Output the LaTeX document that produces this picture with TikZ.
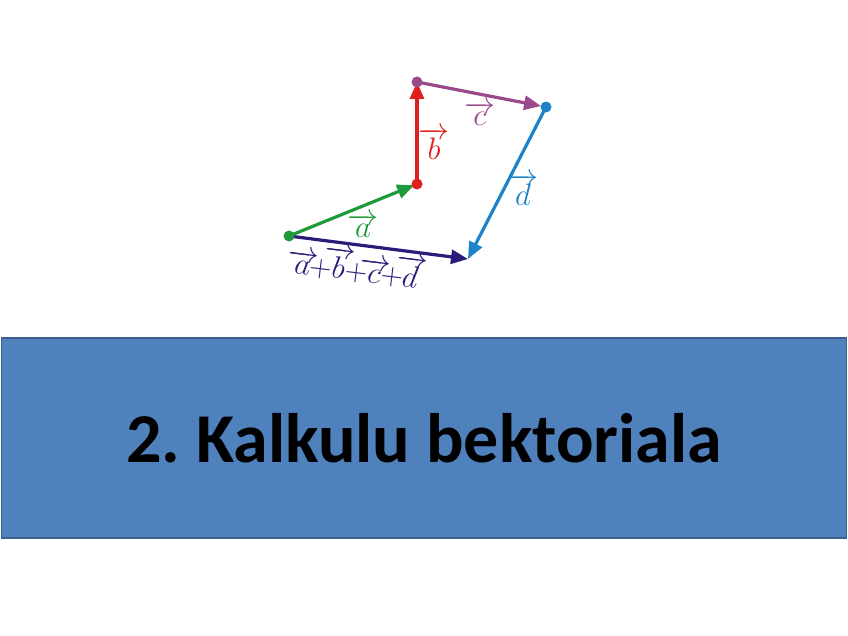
\documentclass[tikz,border=0pt]{standalone}
\usepackage{fix-cm}
\usepackage{fontspec}
\newfontfamily\titlefont{Carlito}
\usetikzlibrary{arrows.meta}
\definecolor{vecgreen}{HTML}{1E9A3A}
\definecolor{vecred}{HTML}{E0201E}
\definecolor{vecpurple}{HTML}{9A4A8A}
\definecolor{vecblue}{HTML}{1E82C8}
\definecolor{vecnavy}{HTML}{2A1C78}
\definecolor{boxfill}{HTML}{4F81BD}
\definecolor{boxline}{HTML}{3A5F8C}
\frenchspacing

\begin{document}
\begin{tikzpicture}[x=1pt, y=-1pt,
    vecarrow/.style={line width=3.2pt, -{Triangle[length=17pt, width=14pt]}},
    vecdot/.style={circle, fill=#1, inner sep=0pt, minimum size=11pt},
    veclabel/.style={font=\fontsize{31}{34}\selectfont, text=#1, inner sep=0pt},
    titlebox/.style={draw=boxline, fill=boxfill, line width=1.5pt,
        minimum width=845pt, minimum height=200pt, inner sep=0pt}]
    \useasboundingbox (0,0) rectangle (848,636);
    % points of the polygon
    \coordinate (O) at (289,236);
    \coordinate (A) at (417,184);
    \coordinate (B) at (417,82);
    \coordinate (C) at (546,107);
    \coordinate (D) at (468,259);
    % vectors
    \draw[vecarrow, vecnavy] (O) -- (D);
    \draw[vecarrow, vecgreen, shorten >=3pt] (O) -- (A);
    \draw[vecarrow, vecred] (A) -- (B);
    \draw[vecarrow, vecpurple, shorten >=5pt] (B) -- (C);
    \draw[vecarrow, vecblue] (C) -- (D);
    \node[vecdot=vecgreen] (dotO) at (O) {};
    \node[vecdot=vecred] (dotA) at (A) {};
    \node[vecdot=vecpurple] (dotB) at (B) {};
    \node[vecdot=vecblue] (dotC) at (C) {};
    % labels
    \node[veclabel=vecgreen] (la) at (363,226) {$\overrightarrow{a}$};
    \node[veclabel=vecred] (lb) at (434,144) {$\overrightarrow{b}$};
    \node[veclabel=vecpurple] (lc) at (480,114) {$\overrightarrow{c}$};
    \node[veclabel=vecblue] (ld) at (523,190) {$\overrightarrow{d}$};
    \node[veclabel=vecnavy, rotate=-7] (lsum) at (357,266)
        {$\overrightarrow{a}\mkern-5mu{+}\mkern-5mu\overrightarrow{b}\mkern-5mu{+}\mkern-5mu\overrightarrow{c}\mkern-5mu{+}\mkern-5mu\overrightarrow{d}$};
    % title
    \node[titlebox] (title) at (424,438)
        {\titlefont\bfseries\fontsize{70}{80}\selectfont 2. Kalkulu bektoriala};
\end{tikzpicture}
\end{document}
